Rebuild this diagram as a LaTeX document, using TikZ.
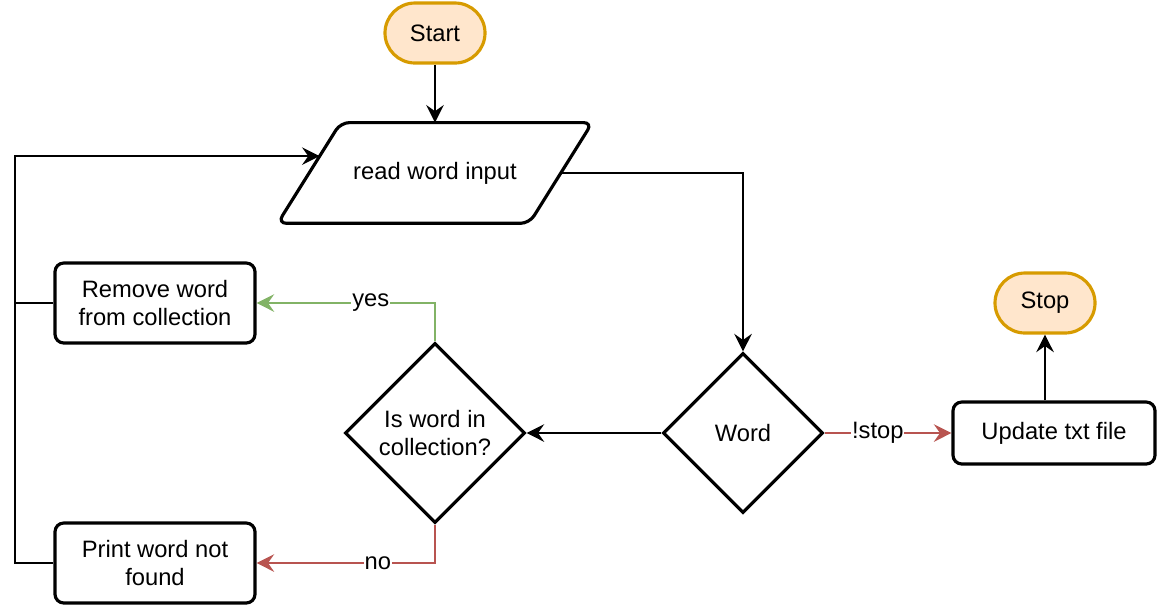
\documentclass[tikz,border=0pt]{standalone}
\usepackage{fontspec}
\setmainfont{Liberation Sans}
\usetikzlibrary{arrows.meta, positioning, shapes.geometric, calc}
\definecolor{termfill}{HTML}{FFE6CC}
\definecolor{termdraw}{HTML}{D79B00}
\definecolor{yesgreen}{HTML}{82B366}
\definecolor{nored}{HTML}{B85450}

\begin{document}
\begin{tikzpicture}[
  term/.style={rectangle, rounded corners=0.6cm, draw=termdraw, fill=termfill,
               line width=1.8pt, minimum width=2cm, minimum height=1.2cm, inner sep=0pt},
  box/.style={rectangle, rounded corners=5pt, draw, line width=1.8pt,
              minimum width=4cm, minimum height=1.6cm, align=center, inner sep=0pt},
  decide/.style={diamond, aspect=1, draw, line width=1.8pt, inner sep=0pt, align=center},
  io/.style={rectangle, minimum width=6.28cm, minimum height=2cm, inner sep=0pt},
  arrow/.style={-{Stealth[length=10pt, width=10pt, inset=3.5pt]}, line width=1.1pt},
  lbl/.style={fill=white, text=black, inner sep=0.5pt, font=\fontsize{13.5}{16}\selectfont},
  font=\fontsize{13.5}{16}\selectfont
]
\useasboundingbox (0,0) rectangle (23.16,-12.08);

% Top: start and input
\node[term] (start) at (8.7,-0.66) {Start};
\node[io, below=1.16cm of start] (read) {read word input};
\draw[rounded corners=5pt, line width=1.8pt] (read.south west) -- ($(read.north west)+(1.26,0)$)
  -- (read.north east) -- ($(read.south east)-(1.26,0)$) -- cycle;
\coordinate (readin) at ($(read.south west)!0.667!(read.north west)+(0.84,0)$);
\coordinate (readout) at ($(read.east)-(0.63,0)$);

% Decisions
\node[decide, minimum size=3.2cm] (word) at (14.86,-8.66) {Word};
\node[decide, minimum size=3.6cm] (check) at (8.7,-8.66) {Is word in\\collection?};

% Actions
\node[box] (remove) at (3.1,-6.06) {Remove word\\from collection};
\node[box] (notfound) at (3.1,-11.26) {Print word not\\found};
\node[box, minimum width=4.04cm, minimum height=1.24cm] (update) at (21.08,-8.66) {Update txt file};
\node[term] (stop) at (20.9,-6.06) {Stop};

% Loop back
\coordinate (loop) at (0.3,-6.06);

% Arrows
\draw[arrow] (start) -- (read);
\draw[arrow] (readout) -| (word.north);
\draw[arrow] (word.west) -- (check.east);
\draw[arrow, nored] (word.east) -- node[lbl, pos=0.42]{!stop} (update.west);
\draw[arrow] (stop.south |- update.north) -- (stop.south);
\draw[arrow, yesgreen] (check.north) |- node[lbl, pos=0.68]{yes} (remove.east);
\draw[arrow, nored] (check.south) |- node[lbl, pos=0.66]{no} (notfound.east);
\draw[arrow] (remove.west) -| (loop) |- (readin);
\draw[line width=1.1pt] (notfound.west) -| (loop);
\end{tikzpicture}
\end{document}
